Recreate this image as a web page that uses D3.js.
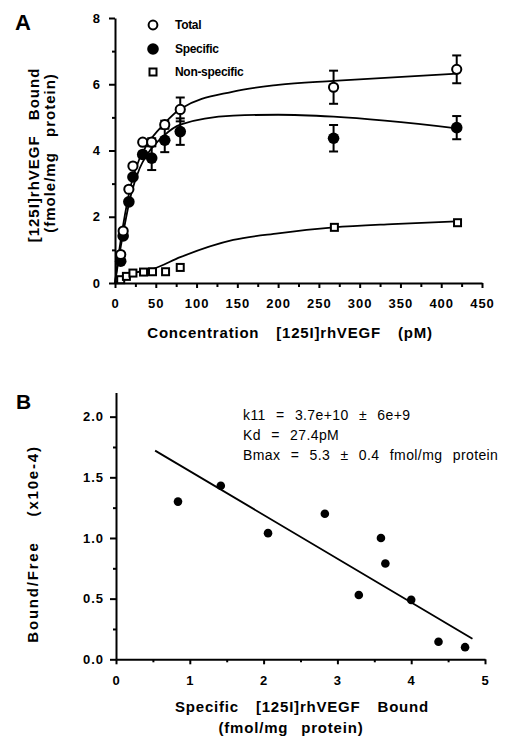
<!DOCTYPE html>
<html>
<head>
<meta charset="utf-8">
<script src="https://cdn.jsdelivr.net/npm/d3@7"></script>
<style>
  body { margin: 0; background: #fff; }
  svg { font-family: "Liberation Sans", Arial, sans-serif; }
  .tick text { font-weight: bold; font-size: 13px; letter-spacing: 1px; fill: #000; }
  .domain { stroke: #000; stroke-width: 2; }
  .tick line { stroke: #000; stroke-width: 2; }
</style>
</head>
<body>
<svg id="grafico"></svg>
<script>
const largura = 506;
const altura = 736;

// Painel A - pontos medidos
const conc = [7, 10, 17, 22, 34, 45, 61, 80, 268, 419];
const totalVal = [0.86, 1.57, 2.83, 3.53, 4.25, 4.25, 4.78, 5.24, 5.91, 6.45];
const totalErr = [0, 0, 0, 0, 0, 0.12, 0.12, 0.36, 0.5, 0.42];
const specVal  = [0.66, 1.42, 2.45, 3.2, 3.88, 3.77, 4.31, 4.57, 4.37, 4.69];
const specErr  = [0, 0, 0, 0, 0, 0.36, 0.36, 0.4, 0.4, 0.35];

const nsConc = [7, 14, 22, 35, 46, 62, 80, 269, 420];
const nsVal  = [0.1, 0.2, 0.3, 0.33, 0.34, 0.34, 0.47, 1.68, 1.82];

// Painel A - curvas ajustadas
const totalFitX = [0, 5, 10, 20, 30, 40, 60, 80, 145, 200, 268, 419];
const totalFitY = [0, 0.95, 1.75, 3.0, 3.75, 4.2, 4.8, 5.25, 5.78, 5.98, 6.1, 6.32];
const specFitX = [0, 5, 10, 20, 30, 40, 60, 80, 145, 200, 268, 419];
const specFitY = [0, 0.8, 1.5, 2.7, 3.45, 3.9, 4.45, 4.78, 5.05, 5.08, 5.02, 4.67];
const nsFitX = [0, 7, 22, 35, 47, 80, 145, 200, 268, 340, 419];
const nsFitY = [0, 0.12, 0.3, 0.36, 0.43, 0.78, 1.3, 1.5, 1.68, 1.78, 1.86];

const ticksXA = [0, 50, 100, 150, 200, 250, 300, 350, 400, 450];
const ticksYA = [0, 2, 4, 6, 8];

// Painel B - Scatchard
const boundB = [0.84, 1.42, 2.06, 2.83, 3.29, 3.59, 3.65, 4.0, 4.37, 4.73];
const ratioB = [1.30, 1.43, 1.04, 1.20, 0.53, 1.00, 0.79, 0.49, 0.145, 0.10];
const lineBX = [0.53, 4.83];
const lineBY = [1.72, 0.17];
const ticksXB = [0, 1, 2, 3, 4, 5];
const ticksYB = [0, 0.5, 1.0, 1.5, 2.0];
const notas = ["k11 = 3.7e+10 \u00b1 6e+9", "Kd = 27.4pM", "Bmax = 5.3 \u00b1 0.4 fmol/mg protein"];

const svg = d3.select("#grafico").attr("width", largura).attr("height", altura);

function rotulo(sel, tam, espaco, palavra) {
  return sel.attr("font-size", tam).attr("font-weight", "bold")
    .attr("letter-spacing", espaco).attr("word-spacing", palavra);
}

// ---------- Painel A ----------
const xA = d3.scaleLinear().domain([0, 450]).range([115, 482]);
const yA = d3.scaleLinear().domain([0, 8]).range([283, 18]);

// marcas menores
svg.append("g").attr("transform", "translate(0,283)")
  .call(d3.axisBottom(xA).tickValues(d3.range(25, 450, 50)).tickSize(4).tickFormat("").tickSizeOuter(0))
  .select(".domain").remove();
svg.append("g").attr("transform", "translate(115,0)")
  .call(d3.axisLeft(yA).tickValues([1, 3, 5, 7]).tickSize(3).tickFormat("").tickSizeOuter(0))
  .select(".domain").remove();

svg.append("g").attr("transform", "translate(0,283)")
  .call(d3.axisBottom(xA).tickValues(ticksXA).tickSize(5).tickPadding(11).tickSizeOuter(0));
svg.append("g").attr("transform", "translate(115,0)")
  .call(d3.axisLeft(yA).tickValues(ticksYA).tickSize(6).tickPadding(8).tickSizeOuter(0));

const linhaA = d3.line().x(d => xA(d[0])).y(d => yA(d[1])).curve(d3.curveMonotoneX);
[[totalFitX, totalFitY], [specFitX, specFitY], [nsFitX, nsFitY]].forEach(([xs, ys]) => {
  svg.append("path")
    .datum(xs.map((v, i) => [v, ys[i]]))
    .attr("fill", "none").attr("stroke", "#000").attr("stroke-width", 1.8)
    .attr("d", linhaA);
});

function barras(vals, errs) {
  conc.forEach((c, i) => {
    if (!errs[i]) return;
    const g = svg.append("g").attr("stroke", "#000").attr("stroke-width", 2);
    const cx = xA(c), y1 = yA(vals[i] + errs[i]), y2 = yA(vals[i] - errs[i]);
    g.append("line").attr("x1", cx).attr("x2", cx).attr("y1", y1).attr("y2", y2);
    g.append("line").attr("x1", cx - 4.5).attr("x2", cx + 4.5).attr("y1", y1).attr("y2", y1);
    g.append("line").attr("x1", cx - 4.5).attr("x2", cx + 4.5).attr("y1", y2).attr("y2", y2);
  });
}
barras(totalVal, totalErr);
barras(specVal, specErr);

// não-específico (quadrados)
svg.selectAll(".ns").data(nsConc).join("rect")
  .attr("x", d => xA(d) - 3.5).attr("y", (d, i) => yA(nsVal[i]) - 3.5)
  .attr("width", 7).attr("height", 7)
  .attr("fill", "#fff").attr("stroke", "#000").attr("stroke-width", 2);

// específico (círculos cheios)
svg.selectAll(".sp").data(conc).join("circle")
  .attr("cx", d => xA(d)).attr("cy", (d, i) => yA(specVal[i])).attr("r", 5.8)
  .attr("fill", "#000");

// total (círculos abertos)
svg.selectAll(".tt").data(conc).join("circle")
  .attr("cx", d => xA(d)).attr("cy", (d, i) => yA(totalVal[i])).attr("r", 4.6)
  .attr("fill", "#fff").attr("stroke", "#000").attr("stroke-width", 2);

// Legenda
const leg = svg.append("g").attr("font-size", 12).attr("font-weight", "bold").attr("letter-spacing", -0.3);
leg.append("circle").attr("cx", 153).attr("cy", 25).attr("r", 4.4).attr("fill", "#fff").attr("stroke", "#000").attr("stroke-width", 2);
leg.append("text").attr("x", 175).attr("y", 29).text("Total");
leg.append("circle").attr("cx", 153).attr("cy", 49).attr("r", 5.8).attr("fill", "#000");
leg.append("text").attr("x", 175).attr("y", 53).text("Specific");
leg.append("rect").attr("x", 149.5).attr("y", 68.5).attr("width", 7).attr("height", 7).attr("fill", "#fff").attr("stroke", "#000").attr("stroke-width", 2);
leg.append("text").attr("x", 175).attr("y", 76).text("Non-specific");

// Rótulos A
svg.append("text").attr("x", 15).attr("y", 30).attr("font-size", 22).attr("font-weight", "bold").text("A");
rotulo(svg.append("text"), 15, 0.8, 12).attr("x", 290).attr("y", 338).attr("text-anchor", "middle")
  .text("Concentration [125I]rhVEGF (pM)");
rotulo(svg.append("text"), 15, 1, 10).attr("transform", "translate(39,155) rotate(-90)").attr("text-anchor", "middle")
  .text("[125I]rhVEGF Bound");
rotulo(svg.append("text"), 15, 1, 10).attr("transform", "translate(55,153) rotate(-90)").attr("text-anchor", "middle")
  .text("(fmole/mg protein)");

// ---------- Painel B ----------
const xB = d3.scaleLinear().domain([0, 5]).range([116, 485]);
const yB = d3.scaleLinear().domain([0, 2.2]).range([659.3, 392.4]);

svg.append("g").attr("transform", "translate(0,659.3)")
  .call(d3.axisBottom(xB).tickValues(d3.range(0.5, 5, 1)).tickSize(3).tickFormat("").tickSizeOuter(0))
  .select(".domain").remove();
svg.append("g").attr("transform", "translate(116,0)")
  .call(d3.axisLeft(yB).tickValues([0.25, 0.75, 1.25, 1.75]).tickSize(3).tickFormat("").tickSizeOuter(0))
  .select(".domain").remove();

svg.append("g").attr("transform", "translate(0,659.3)")
  .call(d3.axisBottom(xB).tickValues(ticksXB).tickSize(5).tickPadding(11).tickFormat(d3.format("d")).tickSizeOuter(0));
svg.append("g").attr("transform", "translate(116,0)")
  .call(d3.axisLeft(yB).tickValues(ticksYB).tickSize(6).tickPadding(6).tickFormat(d3.format(".1f")).tickSizeOuter(0));

svg.append("path")
  .datum(lineBX.map((v, i) => [v, lineBY[i]]))
  .attr("fill", "none").attr("stroke", "#000").attr("stroke-width", 1.8)
  .attr("d", d3.line().x(d => xB(d[0])).y(d => yB(d[1])));

svg.selectAll(".sc").data(boundB).join("circle")
  .attr("cx", d => xB(d)).attr("cy", (d, i) => yB(ratioB[i])).attr("r", 4.3)
  .attr("fill", "#000");

notas.forEach((t, i) => {
  svg.append("text").attr("x", 243).attr("y", 420 + i * 20)
    .attr("font-size", 14).attr("letter-spacing", 0.4).attr("word-spacing", 6)
    .text(t);
});

svg.append("text").attr("x", 16).attr("y", 409).attr("font-size", 21).attr("font-weight", "bold").text("B");
rotulo(svg.append("text"), 15, 0.8, 12).attr("x", 302).attr("y", 712).attr("text-anchor", "middle")
  .text("Specific [125I]rhVEGF Bound");
rotulo(svg.append("text"), 15, 0.8, 8).attr("x", 291).attr("y", 733).attr("text-anchor", "middle")
  .text("(fmol/mg protein)");
rotulo(svg.append("text"), 15, 1.8, 19).attr("transform", "translate(38,544) rotate(-90)").attr("text-anchor", "middle")
  .text("Bound/Free (x10e-4)");
</script>
</body>
</html>
